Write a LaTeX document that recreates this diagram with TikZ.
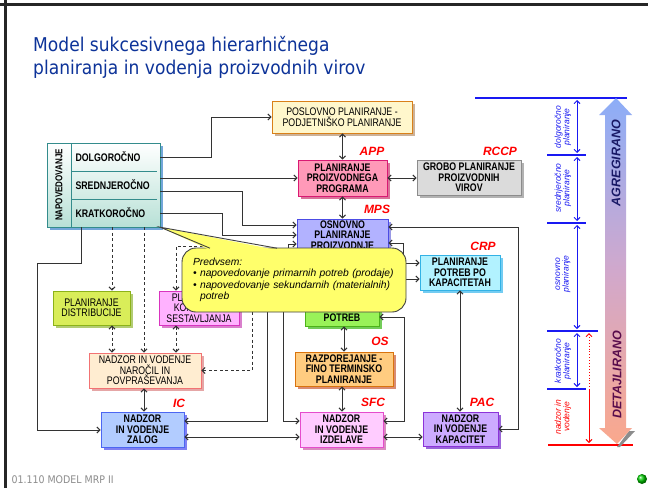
\documentclass[tikz,border=0pt]{standalone}
\usepackage{fontspec}
\setmainfont{Liberation Sans}
\newfontfamily\boxfont[FakeStretch=0.8]{Liberation Sans}
\newfontfamily\titlefont[FakeStretch=0.9]{DejaVu Sans}
\usetikzlibrary{arrows.meta, shadows, calc, positioning}
\definecolor{TitleBlue}{rgb}{0.05,0.2,0.6}
\definecolor{PoslFill}{rgb}{1,0.97,0.8}
\definecolor{PoslLine}{rgb}{0.85,0.5,0.1}
\definecolor{PoslShd}{rgb}{0.8,0.7,0.6}
\definecolor{PppFill}{rgb}{1,0.6,0.72}
\definecolor{PppLine}{rgb}{0.85,0.1,0.45}
\definecolor{PppShd}{rgb}{0.85,0.45,0.6}
\definecolor{GroboFill}{rgb}{0.86,0.86,0.86}
\definecolor{GroboLine}{rgb}{0.55,0.55,0.55}
\definecolor{GroboShd}{rgb}{0.7,0.7,0.7}
\definecolor{OsnFill}{rgb}{0.7,0.7,1}
\definecolor{OsnLine}{rgb}{0.3,0.3,0.9}
\definecolor{OsnShd}{rgb}{0.6,0.6,0.9}
\definecolor{MrpFill}{rgb}{0.6,0.95,0.35}
\definecolor{MrpLine}{rgb}{0.3,0.7,0.1}
\definecolor{MrpShd}{rgb}{0.45,0.8,0.35}
\definecolor{RazpFill}{rgb}{1,0.8,0.5}
\definecolor{RazpLine}{rgb}{0.85,0.45,0.05}
\definecolor{RazpShd}{rgb}{0.85,0.55,0.45}
\definecolor{IzdFill}{rgb}{1,0.8,1}
\definecolor{IzdLine}{rgb}{0.9,0.3,0.8}
\definecolor{IzdShd}{rgb}{0.85,0.55,0.75}
\definecolor{ZalFill}{rgb}{0.7,0.8,1}
\definecolor{ZalLine}{rgb}{0.3,0.4,0.95}
\definecolor{ZalShd}{rgb}{0.5,0.5,0.95}
\definecolor{KapFill}{rgb}{0.8,0.67,1}
\definecolor{KapLine}{rgb}{0.55,0.2,0.85}
\definecolor{KapShd}{rgb}{0.6,0.4,0.85}
\definecolor{CrpFill}{rgb}{0.7,0.95,1}
\definecolor{CrpLine}{rgb}{0.2,0.7,0.9}
\definecolor{CrpShd}{rgb}{0.45,0.8,0.95}
\definecolor{NarFill}{rgb}{1,0.93,0.82}
\definecolor{NarLine}{rgb}{0.95,0.45,0.45}
\definecolor{NarShd}{rgb}{0.9,0.65,0.65}
\definecolor{DistFill}{rgb}{0.85,0.93,0.35}
\definecolor{DistLine}{rgb}{0.55,0.7,0.1}
\definecolor{DistShd}{rgb}{0.7,0.8,0.45}
\definecolor{KonFill}{rgb}{1,0.7,1}
\definecolor{KonLine}{rgb}{0.85,0.2,0.75}
\definecolor{KonShd}{rgb}{0.85,0.5,0.8}
\definecolor{NapFill}{rgb}{0.72,0.88,0.84}
\definecolor{NapLine}{rgb}{0.2,0.55,0.55}
\definecolor{NapShd}{rgb}{0.45,0.65,0.85}
\definecolor{NoteFill}{rgb}{1,1,0.42}
\definecolor{ScaleBlue}{rgb}{0.1,0.1,0.95}
\definecolor{AgrTop}{rgb}{0.55,0.68,0.97}
\definecolor{AgrMid}{rgb}{0.82,0.66,0.8}
\definecolor{AgrBot}{rgb}{0.98,0.66,0.55}
\definecolor{AgrText}{rgb}{0.1,0.1,0.4}
\definecolor{DetText}{rgb}{0.35,0.05,0.3}

\tikzset{
  box/.style={draw, line width=0.9pt, align=center, inner sep=1pt,
    font=\boxfont\fontsize{11}{10.5}\selectfont\bfseries},
  plainbox/.style={box, font=\boxfont\fontsize{11}{10.5}\selectfont},
  tint/.style n args={3}{fill=#1, draw=#2,
    general shadow={fill=#3, shadow xshift=3pt, shadow yshift=-3pt}},
  arr/.style={->, line width=1pt, draw=black!80},
  twoarr/.style={<->, line width=1pt, draw=black!80},
  dasharr/.style={arr, dash pattern=on 3pt off 2.5pt},
  tag/.style={text=red, font=\fontsize{12}{12}\selectfont\bfseries\itshape},
  row/.style={text width=80pt, inner xsep=4.5pt, minimum height=28pt, align=left,
    font=\boxfont\fontsize{11}{11}\selectfont\bfseries},
  side/.style={rotate=90, align=center, inner sep=0pt,
    font=\fontsize{8.5}{8.5}\selectfont\itshape},
}

\begin{document}
\begin{tikzpicture}[x=1pt, y=-1pt, >={Straight Barb[length=3pt,width=6pt]}]
\useasboundingbox (0,0) rectangle (648,488);
\fill[white] (0,0) rectangle (648,488);
\draw[line width=3pt, black!85] (0,4) -- (648,4);
\draw[line width=3pt, black!85] (5,0) -- (5,488);

\node[anchor=north west, inner sep=0pt, align=left, text=TitleBlue,
  font=\titlefont\fontsize{19}{23.5}\selectfont] (title) at (33,36)
  {Model sukcesivnega hierarhičnega\\planiranja in vodenja proizvodnih virov};

% napovedovanje
\node[draw=NapLine, line width=0.9pt, top color=white, bottom color=NapFill,
  minimum width=113pt, minimum height=84pt,
  general shadow={fill=NapShd, shadow xshift=3pt, shadow yshift=-3pt}] (napov) at (103.5,185) {};
\draw[NapLine, line width=0.9pt] (71,143) -- (71,227) (71,171) -- (157,171) (71,199) -- (157,199);
\node[rotate=90, inner sep=0pt, font=\boxfont\fontsize{10}{10}\selectfont\bfseries] (napovtxt) at (59,185) {NAPOVEDOVANJE};
\node[row] (dolg) at (115.5,157) {DOLGOROČNO};
\node[row] (sred) at (115.5,185) {SREDNJEROČNO};
\node[row] (krat) at (115.5,213) {KRATKOROČNO};

% boxes
\node[plainbox, tint={PoslFill}{PoslLine}{PoslShd}, minimum width=140pt, minimum height=32pt] (posl) at (342,117) {POSLOVNO PLANIRANJE -\\PODJETNIŠKO PLANIRANJE};
\node[box, tint={PppFill}{PppLine}{PppShd}, minimum width=89pt, minimum height=36pt] (ppp) at (342.5,178) {PLANIRANJE\\PROIZVODNEGA\\PROGRAMA};
\node[box, tint={GroboFill}{GroboLine}{GroboShd}, minimum width=104pt, minimum height=35pt] (grobo) at (469,177.5) {GROBO PLANIRANJE\\PROIZVODNIH\\VIROV};
\node[box, tint={OsnFill}{OsnLine}{OsnShd}, minimum width=91pt, minimum height=32pt] (osn) at (342.5,235) {OSNOVNO\\PLANIRANJE\\PROIZVODNJE};
\node[box, tint={MrpFill}{MrpLine}{MrpShd}, minimum width=74pt, text height=25pt, text depth=3pt, inner ysep=2pt] (mrp) at (342,310) {POTREB};
\node[box, tint={RazpFill}{RazpLine}{RazpShd}, minimum width=98pt, minimum height=34pt] (razp) at (344,369) {RAZPOREJANJE -\\FINO TERMINSKO\\PLANIRANJE};
\node[box, tint={IzdFill}{IzdLine}{IzdShd}, minimum width=83pt, minimum height=35pt] (izd) at (341.5,429.5) {NADZOR\\IN VODENJE\\IZDELAVE};
\node[box, tint={ZalFill}{ZalLine}{ZalShd}, minimum width=83pt, minimum height=35pt] (zal) at (142.5,429.5) {NADZOR\\IN VODENJE\\ZALOG};
\node[box, tint={KapFill}{KapLine}{KapShd}, minimum width=75pt, minimum height=34pt] (kap) at (460.5,429) {NADZOR\\IN VODENJE\\KAPACITET};
\node[box, tint={CrpFill}{CrpLine}{CrpShd}, minimum width=80pt, minimum height=35pt] (crp) at (460,272.5) {PLANIRANJE\\POTREB PO\\KAPACITETAH};
\node[plainbox, tint={NarFill}{NarLine}{NarShd}, minimum width=112pt, minimum height=35pt] (nar) at (145,370.5) {NADZOR IN VODENJE\\NAROČIL IN\\POVPRAŠEVANJA};
\node[plainbox, tint={DistFill}{DistLine}{DistShd}, minimum width=77pt, minimum height=34pt] (dist) at (91.5,308) {PLANIRANJE\\DISTRIBUCIJE};
\node[plainbox, tint={KonFill}{KonLine}{KonShd}, minimum width=80pt, minimum height=34pt] (kon) at (199,308) {PLANIRANJE\\KONČNEGA\\SESTAVLJANJA};

% tags
\node[tag] (tapp) at (372,151) {APP};
\node[tag] (trccp) at (500,151) {RCCP};
\node[tag] (tmps) at (377,209) {MPS};
\node[tag] (tcrp) at (483,246) {CRP};
\node[tag] (tos) at (380,341) {OS};
\node[tag] (tsfc) at (373,402) {SFC};
\node[tag] (tic) at (179,403) {IC};
\node[tag] (tpac) at (482,402) {PAC};

% free ends under the callout
\coordinate (hidA) at (288,262);
\coordinate (hidB) at (267,290);
\coordinate (hidC) at (283,290);
\coordinate (hidD) at (230,246);
\coordinate (hidE) at (252,290);
\coordinate (hidF) at (403,268);
\coordinate (hidG) at (392,263);
\coordinate (hidH) at (392,279);

% connectors
\draw[arr] (dolg.east) -- ++(51,0) |- (posl.west);
\draw[arr] (sred.east |- ppp.west) -- (ppp.west);
\draw[arr] (sred.east |- 0,191) -| (242,225) -- (osn.west |- 0,225);
\draw[arr] (krat.east) -| (222,235) -- (osn.west |- 0,235);
\draw[arr] (hidA) |- (osn.west |- 0,244);
\draw[arr] (hidB) |- (zal.east |- 0,421);
\draw[arr] (hidC) |- (izd.west |- 0,421);
\draw[arr] (hidF) |- (osn.east |- 0,243);
\draw[arr] (hidG) -- (crp.west |- hidG);
\draw[arr] (hidH) -- (crp.west |- hidH);
\draw[arr] (napov.south -| 81,0) -- (81,263) -- (37,263) |- (zal.west |- 0,430);
\draw[dasharr] (hidD) -| (kon.north -| 176,0);
\draw[dasharr] (hidE) |- (nar.east);
\draw[dasharr] (napov.south -| 112,0) -- (dist.north -| 112,0);
\draw[dasharr] (napov.south -| 144,0) -- (nar.north -| 144,0);
\draw[dasharr, <->] (dist.south -| 112,0) -- (nar.north -| 112,0);
\draw[dasharr, <->] (kon.south -| 176,0) -- (nar.north -| 176,0);
\draw[twoarr] (posl.south -| ppp.north) -- (ppp.north);
\draw[twoarr] (ppp.east) -- (ppp.east -| grobo.west);
\draw[twoarr] (ppp.south) -- (ppp.south |- osn.north);
\draw[twoarr] (osn.east |- 0,227) -| ($(kap.east)+(20,0)$) -- (kap.east);
\draw[twoarr] (mrp.east |- 0,317) -- (404,317) |- (izd.east |- 0,421);
\draw[twoarr] (mrp.south -| 344,0) -- (razp.north -| 344,0);
\draw[twoarr] (razp.south -| 342,0) -- (izd.north -| 342,0);
\draw[twoarr] (nar.south -| 144,0) -- (zal.north -| 144,0);
\draw[twoarr] (crp.south) -- (kap.north -| crp.south);
\draw[twoarr] (zal.east |- 0,437) -- (izd.west |- 0,437);
\draw[twoarr] (izd.east |- 0,437) -- (kap.west |- 0,437);

% callout
\node[draw=black!75, line width=0.9pt, fill=NoteFill, rounded corners=14pt,
  minimum width=224pt, minimum height=64pt, text width=202pt, align=left, inner sep=0pt,
  font=\fontsize{10.3}{11.5}\selectfont\itshape] (note) at (294,280)
  {Predvsem:\\\textbullet\ napovedovanje primarnih potreb (prodaje)\\
   \textbullet\ napovedovanje sekundarnih (materialnih)\\\phantom{\textbullet\ }potreb};
\fill[NoteFill] (210,250) -- (krat.south east) -- (277,250) -- cycle;
\draw[black!75, line width=0.9pt] (210,248.2) -- (krat.south east) -- (277,248.2);

% scale on the right
\draw[ScaleBlue, line width=1.1pt] (475,98) -- (627,98);
\foreach \y/\xb in {155/586, 223/586, 331/598, 389/586}
  \draw[ScaleBlue, line width=1.1pt] (547,\y) -- (\xb,\y);
\draw[red, line width=1.1pt] (548,445) -- (633,445);
\foreach \ya/\yb in {100/153, 157/221, 225/329, 333/387}
  \draw[ScaleBlue, <->, line width=0.9pt] (577,\ya) -- (577,\yb);
\draw[red, <-, dotted, line width=0.9pt] (589,333) -- (589,389);
\draw[red, ->, line width=0.9pt] (589,389) -- (589,443);
\node[side, text=ScaleBlue] (sdolg) at (563,127) {dolgoročno\\planiranje};
\node[side, text=ScaleBlue] (ssred) at (563,188) {srednjeročno\\planiranje};
\node[side, text=ScaleBlue] (sosn) at (563,274) {osnovno\\planiranje};
\node[side, text=ScaleBlue] (skrat) at (563,361) {kratkoročno\\planiranje};
\node[side, text=red] (snadz) at (563,417) {nadzor in\\vodenje};

\fill[black!45] (629,431) -- (635,431) -- (620,447) -- (617,447) -- cycle;
\shade[top color=AgrTop, bottom color=AgrBot, middle color=AgrMid]
  (605,115) -- (599,115) -- (616,98) -- (632,115) -- (626,115) -- (626,428)
  -- (632,428) -- (617,444) -- (599,428) -- (605,428) -- cycle;
\node[rotate=90, text=AgrText, font=\fontsize{12.5}{12.5}\selectfont\bfseries\itshape] (agr) at (616,163) {AGREGIRANO};
\node[rotate=90, text=DetText, font=\fontsize{12.5}{12.5}\selectfont\bfseries\itshape] (det) at (617,375) {DETAJLIRANO};

% footer
\node[anchor=west, text=black!45, font=\titlefont\fontsize{10.5}{10.5}\selectfont] (foot) at (8,480) {01.110 MODEL MRP II};
\shade[ball color=green!80!black] (642,479) circle (5);
\end{tikzpicture}
\end{document}
